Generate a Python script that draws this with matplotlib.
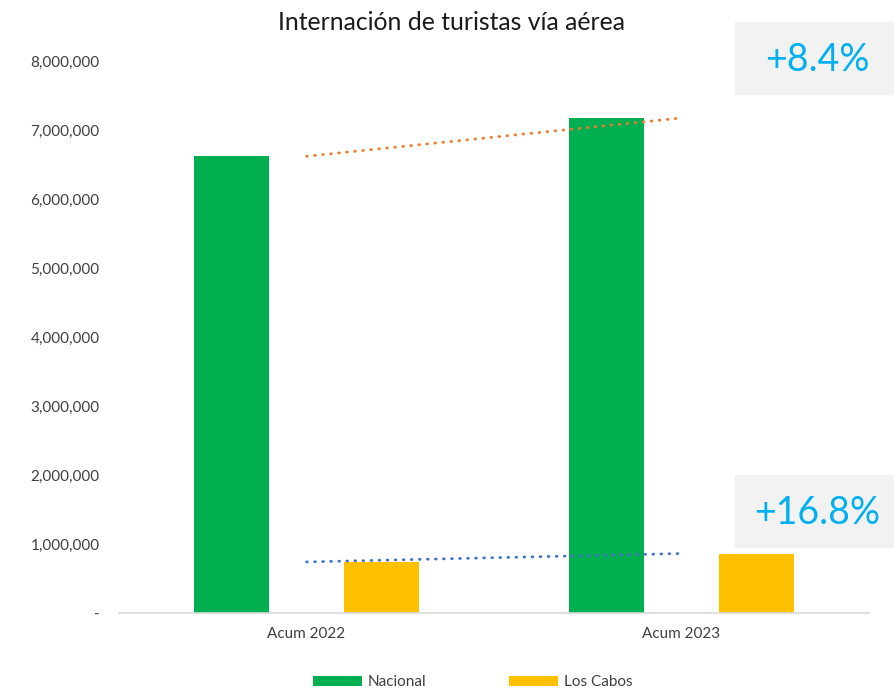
import matplotlib.pyplot as plt
import matplotlib.ticker as mticker
import numpy as np

plt.rcParams['font.family'] = ['Lato', 'DejaVu Sans']

categorias = ['Acum 2022', 'Acum 2023']
nacional = [6620000, 7175000]
los_cabos = [740000, 862000]
etiquetas_crec = ['+8.4%', '+16.8%']

verde = '#00B050'
amarillo = '#FFC000'
naranja = '#ED7D31'
azul = '#4472C4'

fig = plt.figure(figsize=(8.95, 6.92), dpi=100)
ax = fig.add_axes([0.133, 0.1142, 0.838, 0.7976])

x = np.arange(len(categorias))
w = 0.2
ax.bar(x - w, nacional, w, color=verde, label='Nacional', zorder=2)
ax.bar(x + w, los_cabos, w, color=amarillo, label='Los Cabos', zorder=2)

# lineas de tendencia (lineales) sobre cada serie
for serie, col in [(nacional, naranja), (los_cabos, azul)]:
    m, b = np.polyfit(x, serie, 1)
    ax.plot(x, m * x + b, color=col, lw=2.0, dashes=(0.3, 2.6),
            dash_capstyle='round', zorder=3)

ax.set_xlim(-0.5, 1.5)
ax.set_ylim(0, 8000000)
ax.set_yticks(np.arange(0, 8000001, 1000000))
ax.yaxis.set_major_formatter(mticker.FuncFormatter(
    lambda v, p: '-' if v == 0 else f'{int(v):,}'))
ax.set_xticks(x)
ax.set_xticklabels(categorias)
ax.tick_params(axis='both', length=0, labelsize=11, colors='#404040')
ax.tick_params(axis='y', pad=14)
ax.tick_params(axis='x', pad=10)
for s in ['top', 'right', 'left']:
    ax.spines[s].set_visible(False)
ax.spines['bottom'].set_color('#D9D9D9')
ax.spines['bottom'].set_linewidth(1.2)

fig.text(0.505, 0.967, 'Internación de turistas vía aérea', ha='center',
         va='center', fontsize=17.8, color='#1a1a1a')

# cajas de crecimiento
for (x0, y0), txt in zip([(735, 22), (735, 475)], etiquetas_crec):
    fig.patches.append(plt.Rectangle((x0 / 895, 1 - (y0 + 72) / 692),
                                     160 / 895, 72 / 692,
                                     transform=fig.transFigure,
                                     color='#F2F2F2', zorder=0))
    fig.text((x0 + 82) / 895, 1 - (y0 + 38) / 692, txt, ha='center',
             va='center', fontsize=27, color='#00B0F0')

fig.legend(loc='center', bbox_to_anchor=(0.528, 0.014), ncol=2,
           frameon=False, fontsize=11, handlelength=3.2, handleheight=0.7,
           columnspacing=5.4, handletextpad=0.4, labelcolor='#404040')

fig.savefig('out.png', dpi=100)
